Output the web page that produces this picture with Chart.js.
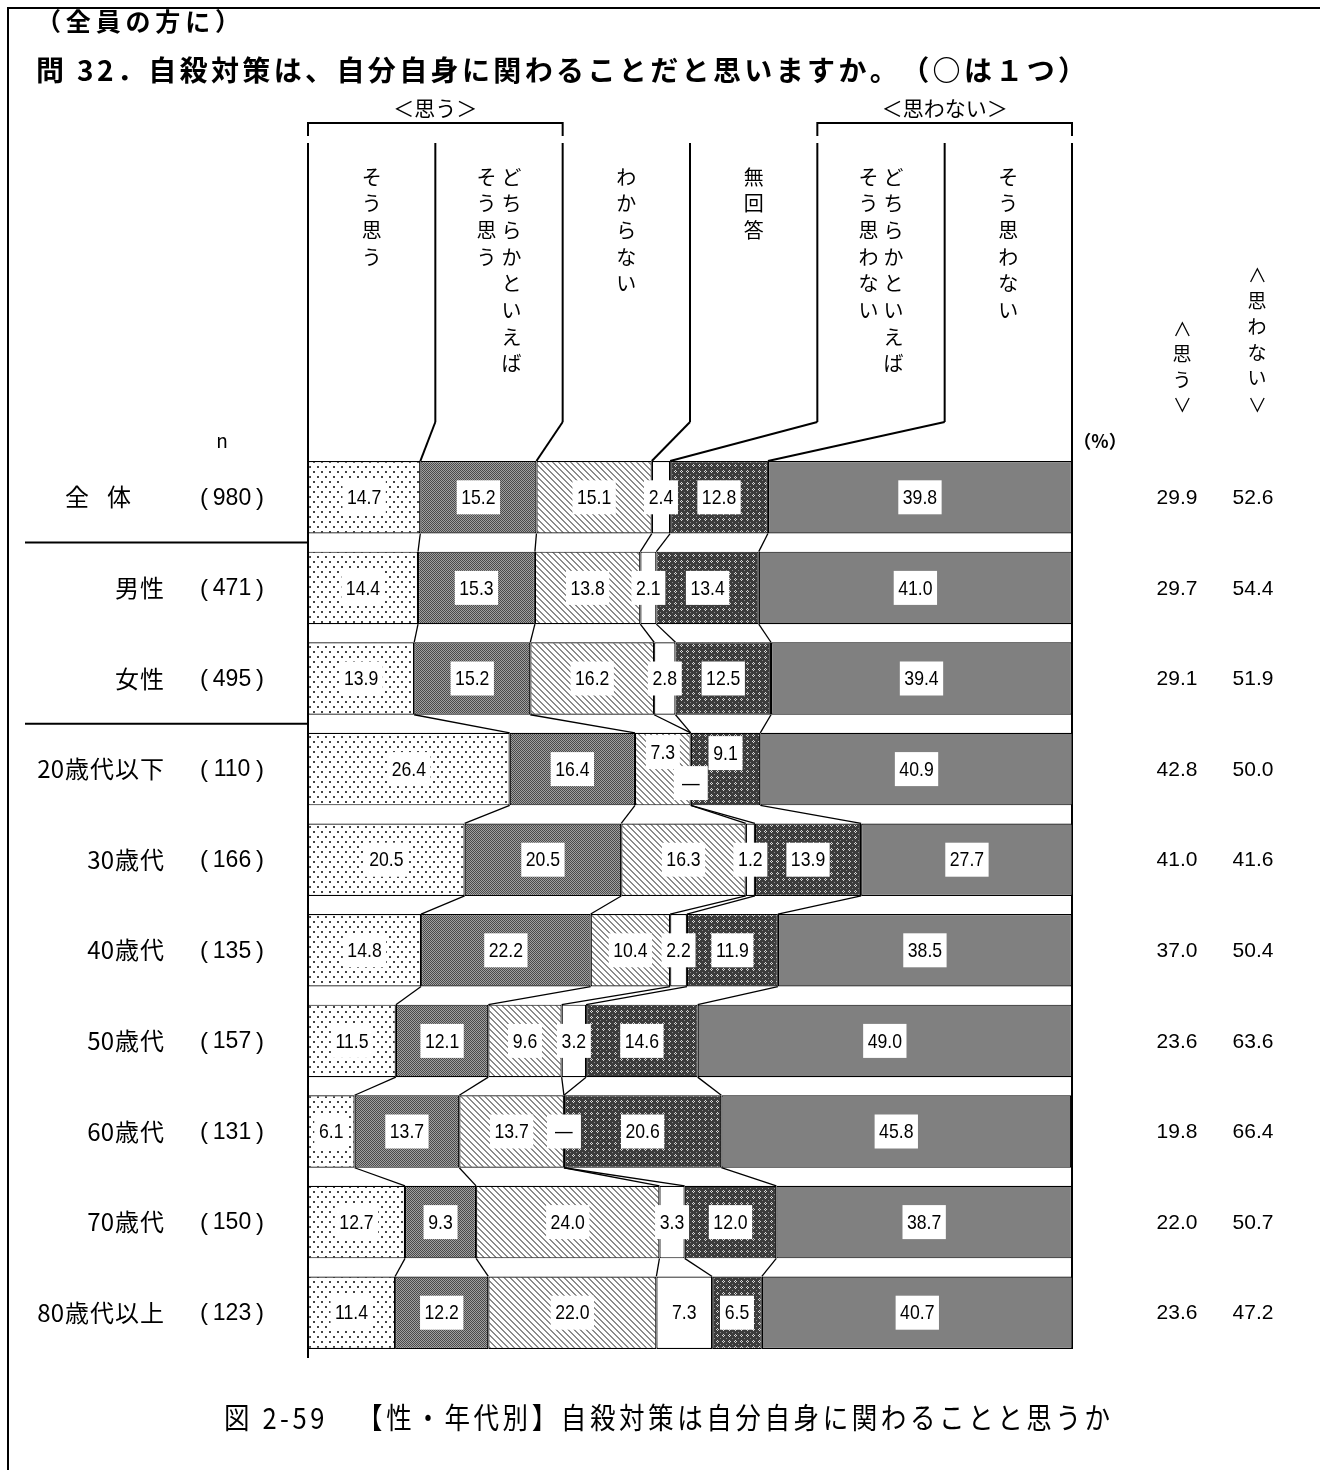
<!DOCTYPE html>
<html lang="ja">
<head>
<meta charset="utf-8">
<title>自殺対策は自分自身に関わることと思うか</title>
<script src="https://cdn.jsdelivr.net/npm/chart.js@4.4.1/dist/chart.umd.min.js"></script>
<style>
  html, body { margin: 0; padding: 0; background: #fff; }
  #wrap { width: 1320px; height: 1470px; }
</style>
</head>
<body>
<div id="wrap"><canvas id="chart" width="1320" height="1470"></canvas></div>
<script>
// Rows and sample sizes
const categories = ['全　体', '男性', '女性', '20歳代以下', '30歳代', '40歳代', '50歳代', '60歳代', '70歳代', '80歳代以上'];
const nValues = [980, 471, 495, 110, 166, 135, 157, 131, 150, 123];

// Answer shares (%)
const soOmou = [14.7, 14.4, 13.9, 26.4, 20.5, 14.8, 11.5, 6.1, 12.7, 11.4];
const dochiraOmou = [15.2, 15.3, 15.2, 16.4, 20.5, 22.2, 12.1, 13.7, 9.3, 12.2];
const wakaranai = [15.1, 13.8, 16.2, 7.3, 16.3, 10.4, 9.6, 13.7, 24.0, 22.0];
const mukaitou = [2.4, 2.1, 2.8, 0, 1.2, 2.2, 3.2, 0, 3.3, 7.3];
const dochiraOmowanai = [12.8, 13.4, 12.5, 9.1, 13.9, 11.9, 14.6, 20.6, 12.0, 6.5];
const soOmowanai = [39.8, 41.0, 39.4, 40.9, 27.7, 38.5, 49.0, 45.8, 38.7, 40.7];

// Totals on the right
const omouTotal = [29.9, 29.7, 29.1, 42.8, 41.0, 37.0, 23.6, 19.8, 22.0, 23.6];
const omowanaiTotal = [52.6, 54.4, 51.9, 50.0, 41.6, 50.4, 63.6, 66.4, 50.7, 47.2];

// Series names and their vertical headings (first string = rightmost line)
const seriesNames = ['そう思う', 'どちらかといえばそう思う', 'わからない', '無回答', 'どちらかといえばそう思わない', 'そう思わない'];
const seriesHeads = [['そう思う'], ['どちらかといえば', 'そう思う'], ['わからない'], ['無回答'], ['どちらかといえば', 'そう思わない'], ['そう思わない']];

const seriesData = [soOmou, dochiraOmou, wakaranai, mukaitou, dochiraOmowanai, soOmowanai];

// Layout bits
const HEAD_TOP = 143;
const HEAD_BEND = 422;
const NUM_FONT = '"Liberation Sans", Arial, sans-serif';
const JP_FONT = '"Noto Sans CJK JP", "Noto Sans", sans-serif';
// small label moves where segments are too narrow (row,series -> dy)
const labelNudge = { '3,2': -17, '3,3': 14, '3,4': -16 };

const canvas = document.getElementById('chart');
const ctx = canvas.getContext('2d');

// Fill patterns
function makePattern(w, h, paint) {
    const c = document.createElement('canvas');
    c.width = w;
    c.height = h;
    paint(c.getContext('2d'), w, h);
    return ctx.createPattern(c, 'repeat');
}

const dotFill = makePattern(8, 10, (g, w, h) => {
    g.fillStyle = '#fff';
    g.fillRect(0, 0, w, h);
    g.fillStyle = '#444';
    g.fillRect(1, 1, 2, 2);
    g.fillRect(5, 6, 2, 2);
});

const checkerFill = makePattern(2, 2, (g) => {
    g.fillStyle = '#a0a0a0';
    g.fillRect(0, 0, 2, 2);
    g.fillStyle = '#4a4a4a';
    g.fillRect(0, 0, 1, 1);
    g.fillRect(1, 1, 1, 1);
});

const hatchFill = makePattern(6, 6, (g, w, h) => {
    g.fillStyle = '#fff';
    g.fillRect(0, 0, w, h);
    g.fillStyle = '#8c8c8c';
    for (let y = 0; y < h; y++) {
        for (let x = 0; x < w; x++) {
            if (((x - y) % 6 + 6) % 6 < 2) g.fillRect(x, y, 1, 1);
        }
    }
});

const crossFill = makePattern(6, 6, (g, w, h) => {
    g.fillStyle = '#3c3c3c';
    g.fillRect(0, 0, w, h);
    g.fillStyle = '#d8d8d8';
    g.fillRect(2, 3, 1, 1);
    g.fillRect(4, 3, 1, 1);
    g.fillRect(3, 2, 1, 1);
    g.fillRect(3, 4, 1, 1);
    g.fillStyle = '#8a8a8a';
    g.fillRect(0, 0, 1, 1);
});

const fills = [dotFill, checkerFill, hatchFill, '#ffffff', crossFill, '#808080'];

// helpers
function line(g, x1, y1, x2, y2) {
    g.beginPath();
    g.moveTo(x1, y1);
    g.lineTo(x2, y2);
    g.stroke();
}

function numText(g, s, x, y, size, sx) {
    g.save();
    g.translate(x, y);
    g.scale(sx, 1);
    g.font = size + 'px ' + NUM_FONT;
    g.fillText(s, 0, 0);
    g.restore();
}

// draws a string char by char so that it spans the given width (sx = glyph squeeze)
function spreadText(g, str, x, y, width, sx = 1) {
    const chars = Array.from(str);
    const ws = chars.map(c => g.measureText(c).width * sx);
    const total = ws.reduce((a, b) => a + b, 0);
    const gap = chars.length > 1 ? (width - total) / (chars.length - 1) : 0;
    g.save();
    g.textAlign = 'left';
    let cx = x;
    chars.forEach((c, i) => {
        g.save();
        g.translate(cx, y);
        g.scale(sx, 1);
        g.fillText(c, 0, 0);
        g.restore();
        cx += ws[i] + gap;
    });
    g.restore();
}

// anchored on the right edge with a fixed extra gap between CJK chars
function spacedRight(g, str, xr, y, gap) {
    const chars = Array.from(str);
    g.save();
    g.textAlign = 'right';
    let cx = xr;
    for (let i = chars.length - 1; i >= 0; i--) {
        g.fillText(chars[i], cx, y);
        const isDigit = /[0-9]/.test(chars[i]) && i > 0 && /[0-9]/.test(chars[i - 1]);
        cx -= g.measureText(chars[i]).width + (isDigit ? 0 : gap);
    }
    g.restore();
}

function vText(g, str, x, y0, step) {
    for (let i = 0; i < str.length; i++) g.fillText(str[i], x, y0 + i * step);
}

function rotChar(g, ch, x, y) {
    g.save();
    g.translate(x, y);
    g.rotate(Math.PI / 2);
    g.fillText(ch, 0, 0);
    g.restore();
}

function edges(chart, i) {
    const xs = chart.scales.x;
    let c = 0;
    const out = [xs.getPixelForValue(0)];
    seriesData.forEach(s => {
        c += s[i];
        out.push(xs.getPixelForValue(Math.min(c, 100)));
    });
    return out;
}

const decor = {
    id: 'decor',
    beforeDatasetsDraw(chart) {
        const g = chart.ctx;
        const xs = chart.scales.x;
        const bars = chart.getDatasetMeta(0).data;
        g.save();
        g.strokeStyle = '#000';
        g.lineWidth = 1.3;

        // lines joining the segment borders of neighbouring rows
        for (let i = 0; i < categories.length - 1; i++) {
            const a = edges(chart, i);
            const b = edges(chart, i + 1);
            const yA = bars[i].y + bars[i].height / 2;
            const yB = bars[i + 1].y - bars[i + 1].height / 2;
            for (let k = 1; k < 6; k++) line(g, a[k], yA, b[k], yB);
        }

        // heading columns and their leader lines
        const first = edges(chart, 0);
        const top0 = bars[0].y - bars[0].height / 2;
        g.lineWidth = 2;
        for (let k = 0; k <= 6; k++) {
            const cx = xs.left + (xs.right - xs.left) * k / 6;
            line(g, cx, HEAD_TOP, cx, HEAD_BEND);
            line(g, cx, HEAD_BEND, first[k], top0);
        }

        // brackets
        const colW = (xs.right - xs.left) / 6;
        [[xs.left, xs.left + colW * 2], [xs.left + colW * 4, xs.right]].forEach(([l, r]) => {
            g.beginPath();
            g.moveTo(l, 136);
            g.lineTo(l, 123);
            g.lineTo(r, 123);
            g.lineTo(r, 136);
            g.stroke();
        });

        // axis edges
        const last = bars[bars.length - 1];
        line(g, xs.left, HEAD_BEND, xs.left, chart.chartArea.bottom);
        line(g, xs.right, HEAD_BEND, xs.right, last.y + last.height / 2);

        // group separators on the left
        const ys = chart.scales.y;
        [0, 2].forEach(i => {
            const y = (ys.getPixelForValue(i) + ys.getPixelForValue(i + 1)) / 2;
            line(g, 25, y, xs.left, y);
        });
        g.restore();
    },

    afterDatasetsDraw(chart) {
        const g = chart.ctx;
        g.save();
        g.textAlign = 'center';
        g.textBaseline = 'middle';
        seriesData.forEach((s, j) => {
            const meta = chart.getDatasetMeta(j);
            s.forEach((v, i) => {
                const el = meta.data[i];
                const cx = (el.x + el.base) / 2;
                const cy = el.y + (labelNudge[i + ',' + j] || 0);
                const txt = v === 0 ? '—' : v.toFixed(1);
                g.font = '21px ' + NUM_FONT;
                const w = Math.max(g.measureText(txt).width * 0.84 + 9, 34);
                g.fillStyle = '#fff';
                g.fillRect(cx - w / 2, cy - 17, w, 34);
                g.fillStyle = '#000';
                numText(g, txt, cx, cy + 1, 21, 0.84);
            });
        });
        g.restore();
    },

    afterDraw(chart) {
        const g = chart.ctx;
        const xs = chart.scales.x;
        const ys = chart.scales.y;
        const colW = (xs.right - xs.left) / 6;
        g.save();
        g.fillStyle = '#000';
        g.strokeStyle = '#000';

        // frame
        g.lineWidth = 2;
        g.strokeRect(8, 8, 1340, 1500);

        // titles
        g.textBaseline = 'middle';
        g.font = 'bold 25px ' + JP_FONT;
        spreadText(g, '（全員の方に）', 36, 21, 204);
        g.font = 'bold 28px ' + JP_FONT;
        spreadText(g, '問 32．自殺対策は、自分自身に関わることだと思いますか。（○は１つ）', 36, 70, 1050);

        // group headings
        g.textAlign = 'center';
        g.font = '21px ' + JP_FONT;
        g.fillText('＜思う＞', xs.left + colW, 108);
        g.fillText('＜思わない＞', xs.left + colW * 5, 108);

        // vertical series headings
        g.font = '20px ' + JP_FONT;
        seriesHeads.forEach((lines, k) => {
            const cx = xs.left + colW * (k + 0.5);
            lines.forEach((str, m) => {
                const x = lines.length === 1 ? cx : cx + 12.5 - m * 25;
                vText(g, str, x, 177, 26.7);
            });
        });

        // right-hand column headings
        g.font = '19px ' + JP_FONT;
        rotChar(g, '＜', 1182, 329);
        vText(g, '思う', 1182, 354, 26);
        rotChar(g, '＞', 1182, 405);
        rotChar(g, '＜', 1257, 275);
        vText(g, '思わない', 1257, 301, 25.7);
        rotChar(g, '＞', 1257, 405);

        g.font = '19px ' + JP_FONT;
        g.fillText('n', 222, 441);
        g.font = 'bold 18px ' + JP_FONT;
        g.fillText('（%）', 1100, 441);

        // row labels, n, totals
        categories.forEach((c, i) => {
            const y = ys.getPixelForValue(i);
            g.font = '24px ' + JP_FONT;
            if (i === 0) {
                spreadText(g, '全体', 65, y, 66);
            } else {
                spacedRight(g, c, 164, y, 1);
            }
            g.font = '24px ' + NUM_FONT;
            g.textAlign = 'right';
            g.fillText('(', 208, y + 1);
            g.textAlign = 'left';
            g.fillText(')', 256, y + 1);
            g.textAlign = 'center';
            numText(g, String(nValues[i]), 232, y + 1, 23, 1);
            numText(g, omouTotal[i].toFixed(1), 1177, y + 1, 21, 1);
            numText(g, omowanaiTotal[i].toFixed(1), 1253, y + 1, 21, 1);
        });

        // caption
        g.font = '29px ' + JP_FONT;
        spreadText(g, '図 2-59　【性・年代別】自殺対策は自分自身に関わることと思うか', 224, 1418, 886, 0.88);
        g.restore();
    }
};

new Chart(ctx, {
    type: 'bar',
    data: {
        labels: categories,
        datasets: seriesData.map((d, i) => ({
            label: seriesNames[i],
            data: d,
            backgroundColor: fills[i],
            borderColor: '#000',
            borderWidth: 1.2,
            borderSkipped: false,
            barPercentage: 0.8,
            categoryPercentage: 1
        }))
    },
    options: {
        indexAxis: 'y',
        responsive: false,
        animation: false,
        devicePixelRatio: 1,
        layout: { padding: { left: 308, right: 248, top: 452, bottom: 112 } },
        plugins: {
            legend: { display: false },
            tooltip: { enabled: false }
        },
        scales: {
            x: { stacked: true, min: 0, max: 100, display: false },
            y: { stacked: true, display: false }
        }
    },
    plugins: [decor]
});
</script>
</body>
</html>
